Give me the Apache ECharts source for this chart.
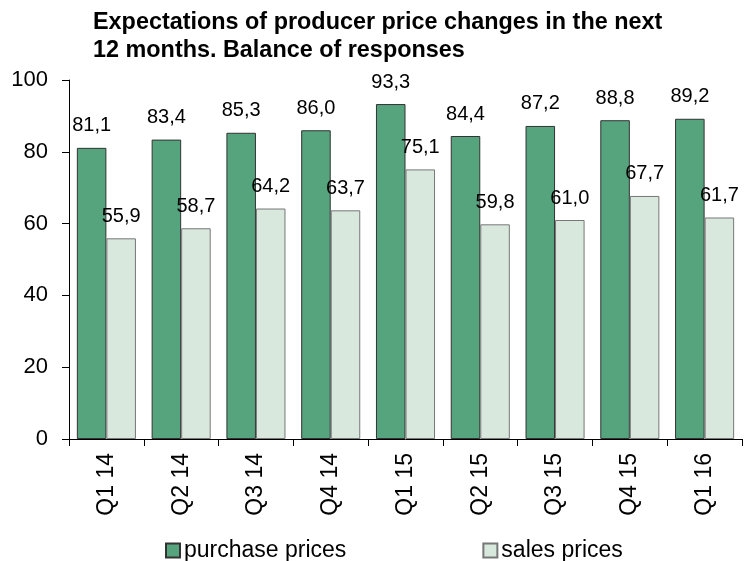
<!DOCTYPE html>
<html>
<head>
<meta charset="utf-8">
<title>Expectations of producer price changes</title>
<script src="https://cdn.jsdelivr.net/npm/echarts@6/dist/echarts.min.js"></script>
<style>
    html, body { margin: 0; padding: 0; background: #fff; }
    #chart { width: 748px; height: 561px; }
</style>
</head>
<body>
<div id="chart"></div>
<script>
// quarters on the x axis
var categories = ['Q1 14', 'Q2 14', 'Q3 14', 'Q4 14', 'Q1 15', 'Q2 15', 'Q3 15', 'Q4 15', 'Q1 16'];
// balance of responses
var purchasePrices = [81.1, 83.4, 85.3, 86.0, 93.3, 84.4, 87.2, 88.8, 89.2];
var salesPrices = [55.9, 58.7, 64.2, 63.7, 75.1, 59.8, 61.0, 67.7, 61.7];
var seriesNames = ['purchase prices', 'sales prices'];

var font = 'Liberation Sans, Arial, sans-serif';

// 81.1 -> "81,1"
function commaLabel(p) {
    return p.value.toFixed(1).replace('.', ',');
}

var myChart = echarts.init(document.getElementById('chart'));
var option = {
    animation: false,
    title: {
        text: 'Expectations of producer price changes in the next\n12 months. Balance of responses',
        left: 88,
        top: 4,
        textStyle: {
            fontFamily: font,
            fontSize: 23.4,
            fontWeight: 'bold',
            lineHeight: 28,
            color: '#000'
        }
    },
    legend: {
        left: 160,
        top: 534,
        itemWidth: 14,
        itemHeight: 14,
        itemGap: 136,
        icon: 'rect',
        textStyle: {
            fontFamily: font,
            fontSize: 23,
            color: '#000',
            padding: [0, 0, 0, -1]
        },
        data: seriesNames
    },
    grid: {
        left: 69,
        right: 6,
        top: 80,
        bottom: 122
    },
    xAxis: {
        type: 'category',
        data: categories,
        axisLine: { lineStyle: { color: '#000', width: 1 } },
        axisTick: {
            show: true,
            length: 7,
            alignWithLabel: false,
            lineStyle: { color: '#000' }
        },
        axisLabel: {
            rotate: 90,
            margin: 14,
            interval: 0,
            fontFamily: font,
            fontSize: 23,
            color: '#000'
        }
    },
    yAxis: {
        type: 'value',
        min: 0,
        max: 100,
        interval: 20,
        splitLine: { show: false },
        axisLine: { show: true, lineStyle: { color: '#000', width: 1 } },
        axisTick: { show: true, length: 7, lineStyle: { color: '#000' } },
        axisLabel: {
            margin: 21,
            fontFamily: font,
            fontSize: 22,
            color: '#000'
        }
    },
    series: [{
        name: seriesNames[0],
        type: 'bar',
        data: purchasePrices,
        barGap: '0%',
        barCategoryGap: '21%',
        itemStyle: {
            color: '#55a47e',
            borderColor: '#333',
            borderWidth: 1
        },
        label: {
            show: true,
            position: 'top',
            distance: 12,
            formatter: commaLabel,
            fontFamily: font,
            fontSize: 20,
            color: '#000'
        }
    }, {
        name: seriesNames[1],
        type: 'bar',
        data: salesPrices,
        itemStyle: {
            color: '#d8e8dc',
            borderColor: '#777',
            borderWidth: 1
        },
        label: {
            show: true,
            position: 'top',
            distance: 12,
            formatter: commaLabel,
            fontFamily: font,
            fontSize: 20,
            color: '#000'
        }
    }]
};
myChart.setOption(option);
</script>
</body>
</html>
